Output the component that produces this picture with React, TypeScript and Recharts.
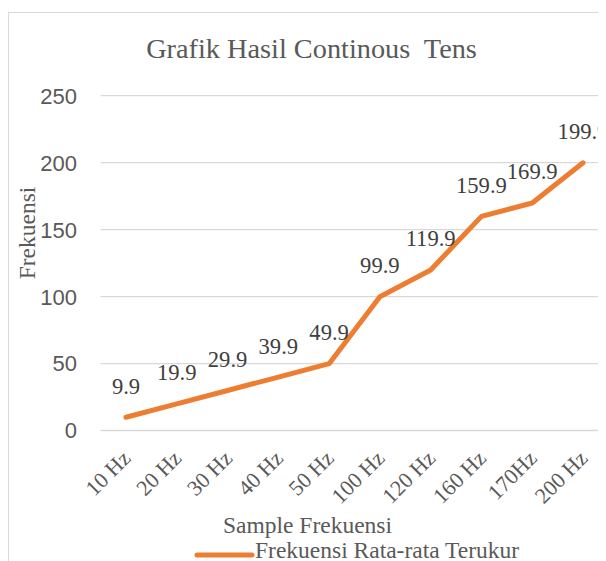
import React from "react";
import { LineChart, Line, XAxis, YAxis, CartesianGrid, LabelList, Label, Legend } from "recharts";

const categories = ["10 Hz", "20 Hz", "30 Hz", "40 Hz", "50 Hz", "100 Hz", "120 Hz", "160 Hz", "170Hz", "200 Hz"];
const measured = [9.9, 19.9, 29.9, 39.9, 49.9, 99.9, 119.9, 159.9, 169.9, 199.9];
const yTicks = [0, 50, 100, 150, 200, 250];
const seriesName = "Frekuensi Rata-rata Terukur";

const data = categories.map((c, i) => ({ cat: c, value: measured[i] }));

const SERIF = '"Liberation Serif", "Times New Roman", serif';
const SANS = '"Liberation Sans", Arial, sans-serif';
const TEXT = "#595959";
const ORANGE = "#ED7D31";

const XTick = (props: any) => {
  const { x, payload } = props;
  const ax = x + 6;
  const ay = 451.5;
  return (
    <text
      x={ax}
      y={ay}
      textAnchor="end"
      transform={`rotate(-45, ${ax}, ${ay})`}
      style={{ fontFamily: SERIF, fontSize: 22 }}
      fill={TEXT}
    >
      {payload.value}
    </text>
  );
};

const YTick = (props: any) => {
  const { y, payload } = props;
  return (
    <text x={69} y={y} dy="0.36em" textAnchor="end" style={{ fontFamily: SANS, fontSize: 22 }} fill={TEXT}>
      {payload.value}
    </text>
  );
};

const renderDataLabel = (props: any) => {
  const { x, y, value } = props;
  return (
    <text
      x={x}
      y={y - 23.5}
      textAnchor="middle"
      style={{ fontFamily: SERIF, fontSize: 22.6 }}
      fill="#404040"
    >
      {value}
    </text>
  );
};

const LegendContent = (props: any) => {
  const payload = props.payload || [];
  const item = payload[0];
  const color = item ? item.color : ORANGE;
  const label = item ? item.value : seriesName;
  return (
    <div style={{ position: "relative", width: 0, height: 0 }}>
      <svg
        width={620}
        height={553}
        style={{ position: "absolute", left: 0, top: 0, overflow: "visible", pointerEvents: "none" }}
      >
        <line x1={189} y1={547} x2={244} y2={547} stroke={color} strokeWidth={5} strokeLinecap="round" />
        <text x={247} y={549.6} style={{ fontFamily: SERIF, fontSize: 23.5 }} fill={TEXT}>
          {label}
        </text>
      </svg>
    </div>
  );
};

export default function App() {
  return (
    <div style={{ width: 598, height: 553, overflow: "hidden", position: "relative" }}>
      <div
        style={{
          position: "absolute",
          left: 0,
          top: 4,
          width: 700,
          height: 700,
          borderLeft: "1px solid #d9d9d9",
          borderTop: "1px solid #d9d9d9",
          boxSizing: "border-box",
        }}
      />
      <div style={{ position: "absolute", left: 0, top: 0 }}>
        <LineChart
          width={620}
          height={553}
          data={data}
          margin={{ top: 87.7, right: 19.6, left: 0, bottom: 100.5 }}
        >
          <text
            x={303.5}
            y={50}
            textAnchor="middle"
            xmlSpace="preserve"
            style={{ fontFamily: SERIF, fontSize: 28.3, whiteSpace: "pre" }}
            fill={TEXT}
          >
            {"Grafik Hasil Continous  Tens"}
          </text>
          <CartesianGrid vertical={false} stroke="#d9d9d9" strokeWidth={1.3} />
          <XAxis
            dataKey="cat"
            interval={0}
            tickLine={false}
            axisLine={false}
            height={30}
            padding={{ left: 25.4, right: 25.4 }}
            tick={<XTick />}
          >
            <Label
              content={() => (
                <text
                  x={299.5}
                  y={524.7}
                  textAnchor="middle"
                  style={{ fontFamily: SERIF, fontSize: 23.5 }}
                  fill={TEXT}
                >
                  Sample Frekuensi
                </text>
              )}
            />
          </XAxis>
          <YAxis
            width={92.6}
            domain={[0, 250]}
            ticks={yTicks}
            interval={0}
            tickLine={false}
            axisLine={false}
            tick={<YTick />}
          >
            <Label
              content={() => (
                <text
                  x={27}
                  y={225}
                  textAnchor="middle"
                  transform="rotate(-90, 27, 225)"
                  style={{ fontFamily: SERIF, fontSize: 23.5 }}
                  fill={TEXT}
                >
                  Frekuensi
                </text>
              )}
            />
          </YAxis>
          <Legend
            content={<LegendContent />}
            wrapperStyle={{ position: "absolute", left: 0, top: 0, width: 0, height: 0 }}
          />
          <Line
            type="linear"
            dataKey="value"
            name={seriesName}
            stroke={ORANGE}
            strokeWidth={5}
            strokeLinecap="round"
            strokeLinejoin="round"
            dot={false}
            activeDot={false}
            isAnimationActive={false}
          >
            <LabelList dataKey="value" content={renderDataLabel} />
          </Line>
        </LineChart>
      </div>
    </div>
  );
}
